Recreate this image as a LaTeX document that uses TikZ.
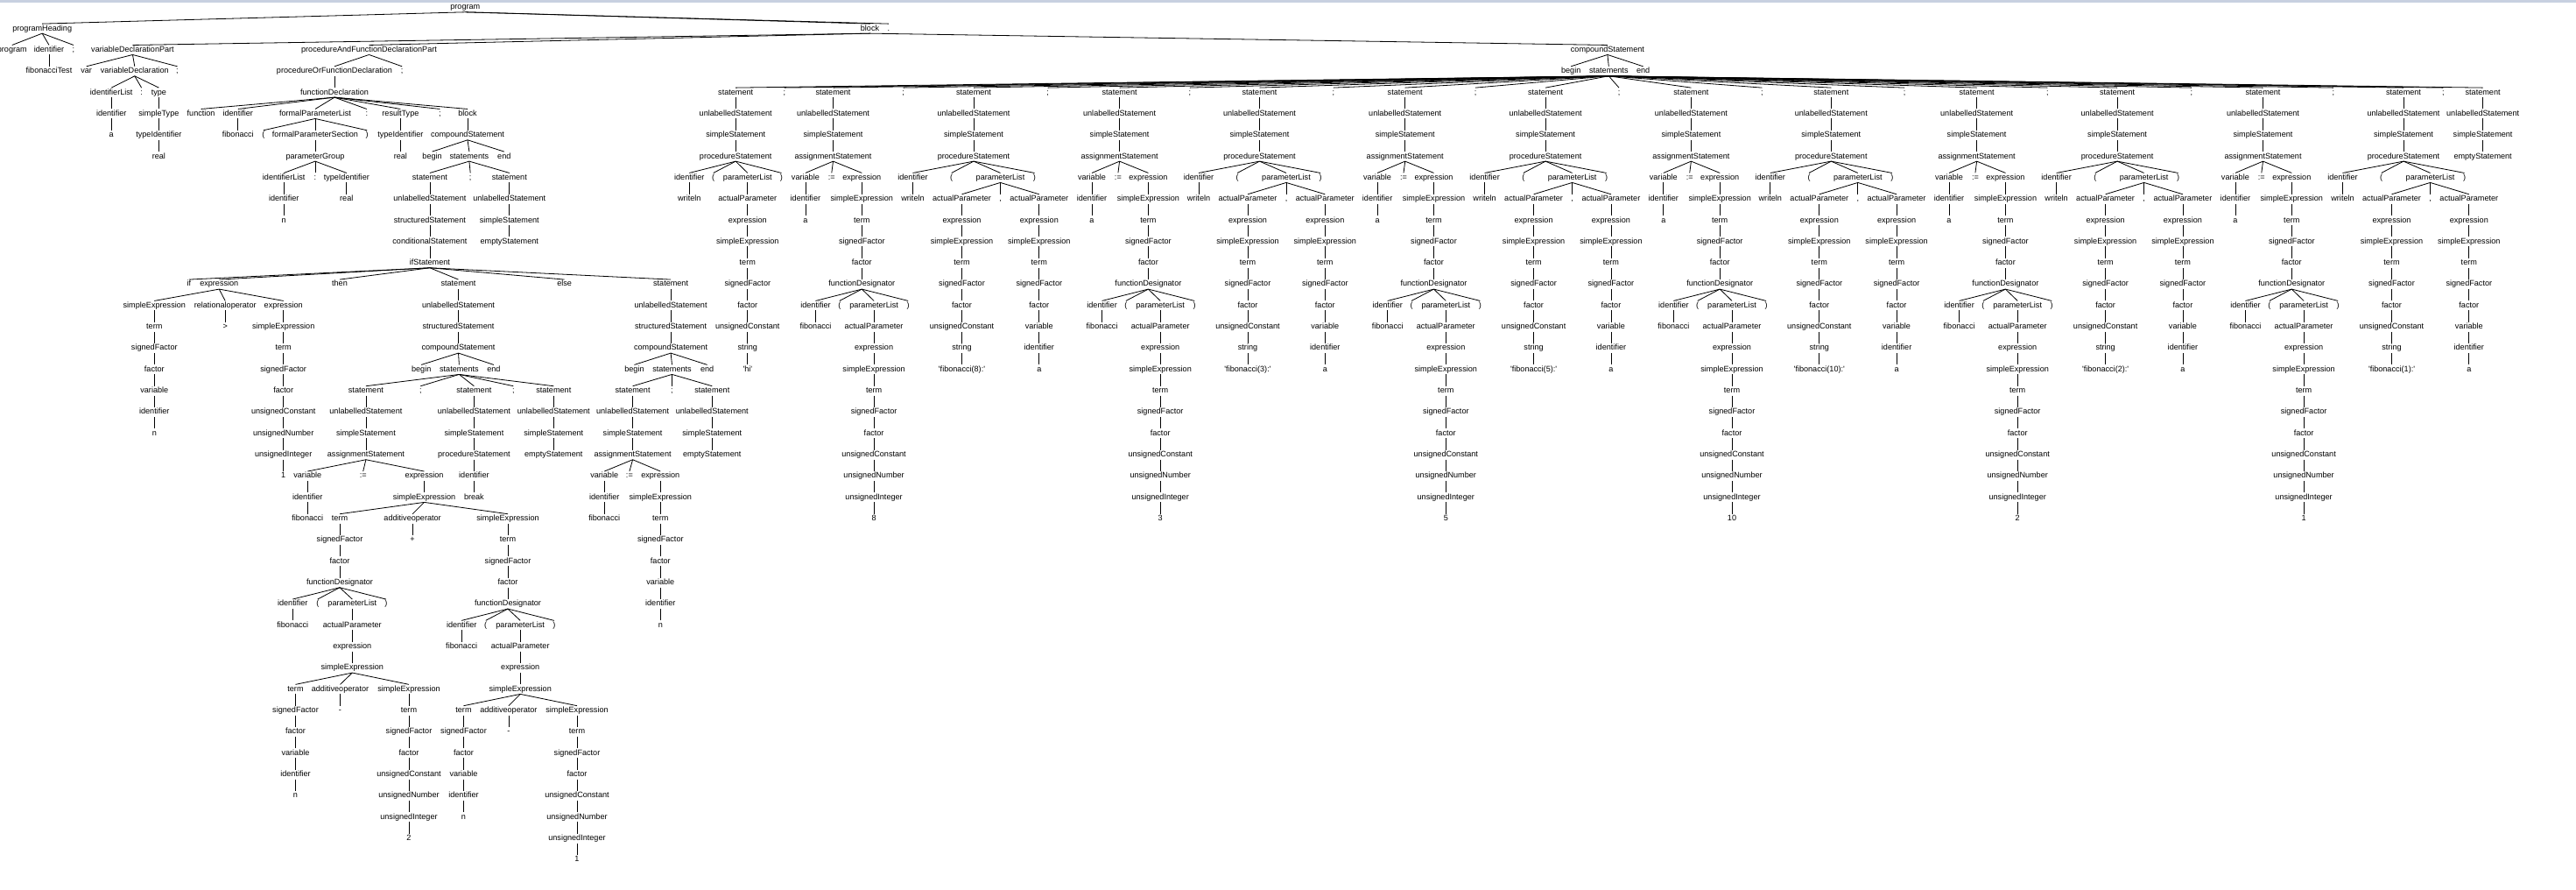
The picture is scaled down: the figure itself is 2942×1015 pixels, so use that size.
\documentclass[tikz,border=0pt]{standalone}
\usepackage{fontspec}
\setmainfont{Liberation Sans}

\definecolor{bandblue}{RGB}{200,208,224}

\tikzset{
  tok/.style={inner sep=0pt, outer sep=1.3pt, text height=6.6pt, text depth=1.8pt,
              font=\fontsize{9.1}{10}\selectfont},
  link/.style={line width=0.8pt, black},
}

%% straight quote of the string literals
\newcommand{\myquote}{\textquotesingle}

%% a run of single children below #1: x, first level, labels
\newcommand{\pchain}[4]{%
  \foreach \mylabel [count=\myi] in {#4}
  {
    \pgfmathtruncatemacro\mylev{#3+\myi-1}
    \pgfmathtruncatemacro\myj{\myi-1}
    \node[tok] (#1-\myi) at (#2,\mylev) {\mylabel};
    \ifnum\myi=1
      \draw[link] (#1.south) -- (#1-\myi.north);
    \else
      \draw[link] (#1-\myj.south) -- (#1-\myi.north);
    \fi
  }}

%% several children of #1 on level #2: name/x/label
\newcommand{\pkids}[3]{%
  \foreach \myname/\myx/\mylabel in {#3}
  {
    \node[tok] (\myname) at (\myx,#2) {\mylabel};
    \draw[link] (#1.south) -- (\myname.north);
  }}

%% writeln('...')
\newcommand{\writestr}[3]{%
  \pkids{stmts}{4}{#2/#1/statement}
  \pchain{#2}{#1}{5}{unlabelledStatement,simpleStatement,procedureStatement}
  \pkids{#2-3}{8}{#2-id/#1-52.9/identifier, #2-lp/#1-25.5/{(}, #2-pl/#1+13.6/parameterList, #2-rp/#1+52.3/{)}}
  \pchain{#2-id}{#1-52.9}{9}{writeln}
  \pchain{#2-pl}{#1+13.6}{9}{actualParameter,expression,simpleExpression,term,signedFactor,factor,unsignedConstant,string,#3}}

%% a := fibonacci(N)
\newcommand{\assignfib}[3]{%
  \pkids{stmts}{4}{#2/#1/statement}
  \pchain{#2}{#1}{5}{unlabelledStatement,simpleStatement,assignmentStatement}
  \pkids{#2-3}{8}{#2-v/#1-31.6/variable, #2-op/#1-1.7/{:=}, #2-ex/#1+32.8/expression}
  \pchain{#2-v}{#1-31.6}{9}{identifier,a}
  \pchain{#2-ex}{#1+32.8}{9}{simpleExpression,term,signedFactor,factor,functionDesignator}
  \pkids{#2-ex-5}{14}{#2-fi/#1-20/identifier, #2-lp/#1+7.3/{(}, #2-pl/#1+46.6/parameterList, #2-rp/#1+85.6/{)}}
  \pchain{#2-fi}{#1-20}{15}{fibonacci}
  \pchain{#2-pl}{#1+46.6}{15}{actualParameter,expression,simpleExpression,term,signedFactor,factor,unsignedConstant,unsignedNumber,unsignedInteger,#3}}

%% writeln('...', a)
\newcommand{\writepair}[3]{%
  \pkids{stmts}{4}{#2/#1/statement}
  \pchain{#2}{#1}{5}{unlabelledStatement,simpleStatement,procedureStatement}
  \pkids{#2-3}{8}{#2-id/#1-69.5/identifier, #2-lp/#1-25.3/{(}, #2-pl/#1+30.5/parameterList, #2-rp/#1+69.5/{)}}
  \pchain{#2-id}{#1-69.5}{9}{writeln}
  \pkids{#2-pl}{9}{#2-a1/#1-13.5/actualParameter, #2-cm/#1+30.5/{,}, #2-a2/#1+74.8/actualParameter}
  \pchain{#2-a1}{#1-13.5}{10}{expression,simpleExpression,term,signedFactor,factor,unsignedConstant,string,#3}
  \pchain{#2-a2}{#1+74.8}{10}{expression,simpleExpression,term,signedFactor,factor,variable,identifier,a}}

\begin{document}
\begin{tikzpicture}[x=1pt,y=-24.33pt]

  %% frame of the page and the band at the top
  \useasboundingbox (0pt,8.3pt) rectangle (2942pt,-1006.7pt);
  \fill[bandblue] (0pt,8.3pt) rectangle (2942pt,5pt);

  %% root
  \node[tok] (prog) at (531.3,0) {program};
  \pkids{prog}{1}{head/48.2/programHeading, blk/993.5/block, dot/1014.8/{.}}

  %% program heading
  \pkids{head}{2}{head-kw/13.8/program, head-id/56/identifier, head-sc/84/{;}}
  \pchain{head-id}{56}{3}{fibonacciTest}

  %% block of the program
  \pkids{blk}{2}{vdp/151.5/variableDeclarationPart, pfd/421.5/procedureAndFunctionDeclarationPart, cs/1835.9/compoundStatement}

  %% var a : real;
  \pkids{vdp}{3}{vdp-kw/98.7/var, vd/153.8/variableDeclaration, vdp-sc/202.5/{;}}
  \pkids{vd}{4}{vd-il/127.2/identifierList, vd-co/161.6/{:}, vd-ty/181.4/type}
  \pchain{vd-il}{127.2}{5}{identifier,a}
  \pchain{vd-ty}{181.4}{5}{simpleType,typeIdentifier,real}

  %% function heading
  \pkids{pfd}{3}{pofd/382/procedureOrFunctionDeclaration, pfd-sc/459.2/{;}}
  \pchain{pofd}{382}{4}{functionDeclaration}
  \pkids{pofd-1}{5}{fd-kw/229.6/function, fd-id/271.8/identifier, fpl/360/formalParameterList, fd-co/418.8/{:}, fd-rt/457.4/resultType, fd-sc/502.4/{;}, fblk/534/block}
  \pchain{fd-id}{271.8}{6}{fibonacci}
  \pkids{fpl}{6}{fpl-lp/300.8/{(}, fps/360/formalParameterSection, fpl-rp/419.2/{)}}
  \pchain{fps}{360}{7}{parameterGroup}
  \pkids{fps-1}{8}{pg-il/324.2/identifierList, pg-co/360/{:}, pg-ti/395.8/typeIdentifier}
  \pchain{pg-il}{324.2}{9}{identifier,n}
  \pchain{pg-ti}{395.8}{9}{real}
  \pchain{fd-rt}{457.4}{6}{typeIdentifier,real}

  %% function body
  \pchain{fblk}{534}{6}{compoundStatement}
  \pkids{fblk-1}{7}{fcs-bg/493.6/begin, fsts/535.9/statements, fcs-en/575.8/end}
  \pkids{fsts}{8}{fst1/490.9/statement, fsts-sc/537.2/{;}, fst2/581.8/statement}
  \pchain{fst2}{581.8}{9}{unlabelledStatement,simpleStatement,emptyStatement}
  \pchain{fst1}{490.9}{9}{unlabelledStatement,structuredStatement,conditionalStatement,ifStatement}
  \pkids{fst1-4}{13}{if-kw/215.8/if, cond/250.3/expression, if-th/388/then, thn/523.5/statement, if-el/644.7/else, els/766.1/statement}

  %% condition
  \pkids{cond}{14}{c-se/176.3/simpleExpression, c-ro/257.2/relationaloperator, c-ex/323.7/expression}
  \pchain{c-se}{176.3}{15}{term,signedFactor,factor,variable,identifier,n}
  \pchain{c-ro}{257.2}{15}{>}
  \pchain{c-ex}{323.7}{15}{simpleExpression,term,signedFactor,factor,unsignedConstant,unsignedNumber,unsignedInteger,1}

  %% then branch
  \pchain{thn}{523.5}{14}{unlabelledStatement,structuredStatement,compoundStatement}
  \pkids{thn-3}{17}{t-bg/481.2/begin, tsts/524.4/statements, t-en/563.9/end}
  \pkids{tsts}{18}{ts1/417.9/statement, tsts-sc1/480.3/{;}, ts2/541.4/statement, tsts-sc2/586.4/{;}, ts3/632.3/statement}
  \pchain{ts1}{417.9}{19}{unlabelledStatement,simpleStatement,assignmentStatement}
  \pkids{ts1-3}{22}{ta-v/351.3/variable, ta-op/414.7/{:=}, ta-ex/484.5/expression}
  \pchain{ta-v}{351.3}{23}{identifier,fibonacci}
  \pchain{ta-ex}{484.5}{23}{simpleExpression}
  \pkids{ta-ex-1}{24}{sum-t/388/term, sum-op/471.1/additiveoperator, sum-se/580/simpleExpression}
  \pchain{sum-op}{471.1}{25}{+}

  %% left call
  \pchain{sum-t}{388}{25}{signedFactor,factor,functionDesignator}
  \pkids{sum-t-3}{28}{f1-id/334.3/identifier, f1-lp/362.8/{(}, f1-pl/402.3/parameterList, f1-rp/440.8/{)}}
  \pchain{f1-id}{334.3}{29}{fibonacci}
  \pchain{f1-pl}{402.3}{29}{actualParameter,expression,simpleExpression}
  \pkids{f1-pl-3}{32}{d1-t/337.5/term, d1-op/388.5/additiveoperator, d1-se/467/simpleExpression}
  \pchain{d1-t}{337.5}{33}{signedFactor,factor,variable,identifier,n}
  \pchain{d1-op}{388.5}{33}{-}
  \pchain{d1-se}{467}{33}{term,signedFactor,factor,unsignedConstant,unsignedNumber,unsignedInteger,2}

  %% right call
  \pchain{sum-se}{580}{25}{term,signedFactor,factor,functionDesignator}
  \pkids{sum-se-4}{29}{f2-id/527.2/identifier, f2-lp/554.7/{(}, f2-pl/594.2/parameterList, f2-rp/632.8/{)}}
  \pchain{f2-id}{527.2}{30}{fibonacci}
  \pchain{f2-pl}{594.2}{30}{actualParameter,expression,simpleExpression}
  \pkids{f2-pl-3}{33}{d2-t/529.5/term, d2-op/580.9/additiveoperator, d2-se/659/simpleExpression}
  \pchain{d2-t}{529.5}{34}{signedFactor,factor,variable,identifier,n}
  \pchain{d2-op}{580.9}{34}{-}
  \pchain{d2-se}{659}{34}{term,signedFactor,factor,unsignedConstant,unsignedNumber,unsignedInteger,1}

  \pchain{ts2}{541.4}{19}{unlabelledStatement,simpleStatement,procedureStatement,identifier,break}
  \pchain{ts3}{632.3}{19}{unlabelledStatement,simpleStatement,emptyStatement}

  %% else branch
  \pchain{els}{766.1}{14}{unlabelledStatement,structuredStatement,compoundStatement}
  \pkids{els-3}{17}{e-bg/724.5/begin, ests/767.5/statements, e-en/807.6/end}
  \pkids{ests}{18}{es1/722.6/statement, ests-sc/767.5/{;}, es2/813.3/statement}
  \pchain{es1}{722.6}{19}{unlabelledStatement,simpleStatement,assignmentStatement}
  \pkids{es1-3}{22}{ea-v/690.2/variable, ea-op/718.9/{:=}, ea-ex/754.3/expression}
  \pchain{ea-v}{690.2}{23}{identifier,fibonacci}
  \pchain{ea-ex}{754.3}{23}{simpleExpression,term,signedFactor,factor,variable,identifier,n}
  \pchain{es2}{813.3}{19}{unlabelledStatement,simpleStatement,emptyStatement}

  %% main body
  \pkids{cs}{3}{cs-bg/1794.2/begin, stmts/1837.3/statements, cs-en/1876.6/end}

  \writestr{840.2}{s1}{\myquote hi\myquote}
  \assignfib{951.5}{s2}{8}
  \writepair{1112}{s3}{\myquote fibonacci(8):\myquote}
  \assignfib{1278.6}{s4}{3}
  \writepair{1438.5}{s5}{\myquote fibonacci(3):\myquote}
  \assignfib{1604.7}{s6}{5}
  \writepair{1765.1}{s7}{\myquote fibonacci(5):\myquote}
  \assignfib{1931.4}{s8}{10}
  \writepair{2091.3}{s9}{\myquote fibonacci(10):\myquote}
  \assignfib{2257.6}{s10}{2}
  \writepair{2418.1}{s11}{\myquote fibonacci(2):\myquote}
  \assignfib{2584.5}{s12}{1}
  \writepair{2745}{s13}{\myquote fibonacci(1):\myquote}
  \pkids{stmts}{4}{s14/2835.6/statement}
  \pchain{s14}{2835.6}{5}{unlabelledStatement,simpleStatement,emptyStatement}

  %% semicolons between the statements
  \foreach \myx [count=\myn] in {895.8,1031.7,1196.5,1358.8,1522.8,1685.1,1849,2012.3,2175.1,2338.4,2502.8,2664.8,2790.3}
  {
    \node[tok] (stmts-sc\myn) at (\myx,4) {;};
    \draw[link] (stmts.south) -- (stmts-sc\myn.north);
  }

\end{tikzpicture}
\end{document}
